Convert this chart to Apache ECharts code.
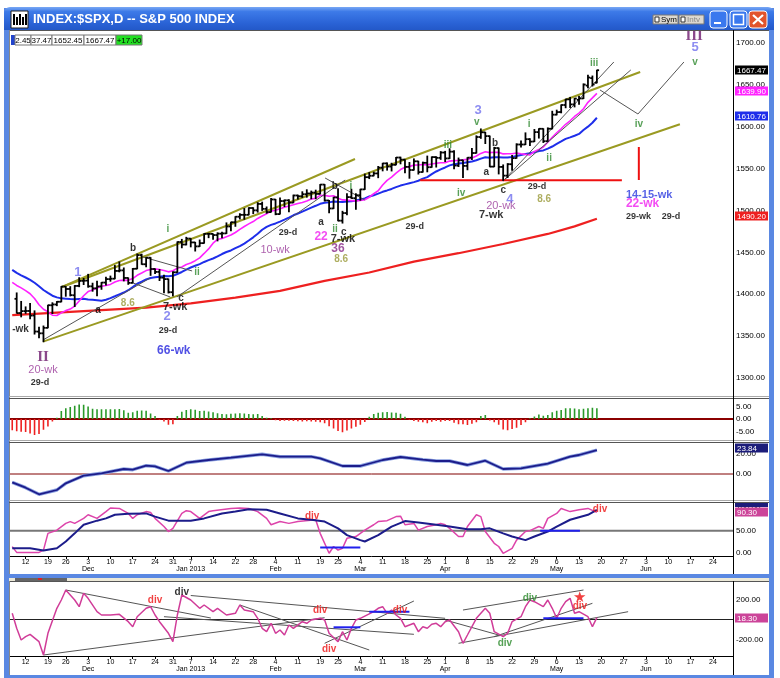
<!DOCTYPE html>
<html><head><meta charset="utf-8">
<script src="https://cdn.jsdelivr.net/npm/echarts@6/dist/echarts.min.js"></script>
<style>html,body{margin:0;padding:0;background:#fff}#c{width:780px;height:678px}</style>
</head><body><div id="c"></div><script>
// ---------------- DATA ----------------
const tradingDays = ['2012-11-07','2012-11-08','2012-11-09','2012-11-12','2012-11-13','2012-11-14','2012-11-15','2012-11-16','2012-11-19','2012-11-20','2012-11-21','2012-11-23','2012-11-26','2012-11-27','2012-11-28','2012-11-29','2012-11-30',
'2012-12-03','2012-12-04','2012-12-05','2012-12-06','2012-12-07','2012-12-10','2012-12-11','2012-12-12','2012-12-13','2012-12-14','2012-12-17','2012-12-18','2012-12-19','2012-12-20','2012-12-21','2012-12-24','2012-12-26','2012-12-27','2012-12-28','2012-12-31',
'2013-01-02','2013-01-03','2013-01-04','2013-01-07','2013-01-08','2013-01-09','2013-01-10','2013-01-11','2013-01-14','2013-01-15','2013-01-16','2013-01-17','2013-01-18','2013-01-22','2013-01-23','2013-01-24','2013-01-25','2013-01-28','2013-01-29','2013-01-30','2013-01-31',
'2013-02-01','2013-02-04','2013-02-05','2013-02-06','2013-02-07','2013-02-08','2013-02-11','2013-02-12','2013-02-13','2013-02-14','2013-02-15','2013-02-19','2013-02-20','2013-02-21','2013-02-22','2013-02-25','2013-02-26','2013-02-27','2013-02-28',
'2013-03-01','2013-03-04','2013-03-05','2013-03-06','2013-03-07','2013-03-08','2013-03-11','2013-03-12','2013-03-13','2013-03-14','2013-03-15','2013-03-18','2013-03-19','2013-03-20','2013-03-21','2013-03-22','2013-03-25','2013-03-26','2013-03-27','2013-03-28',
'2013-04-01','2013-04-02','2013-04-03','2013-04-04','2013-04-05','2013-04-08','2013-04-09','2013-04-10','2013-04-11','2013-04-12','2013-04-15','2013-04-16','2013-04-17','2013-04-18','2013-04-19','2013-04-22','2013-04-23','2013-04-24','2013-04-25','2013-04-26','2013-04-29','2013-04-30',
'2013-05-01','2013-05-02','2013-05-03','2013-05-06','2013-05-07','2013-05-08','2013-05-09','2013-05-10','2013-05-13','2013-05-14','2013-05-15','2013-05-16','2013-05-17'];
const futureDays = ['2013-05-20','2013-05-21','2013-05-22','2013-05-23','2013-05-24','2013-05-27','2013-05-28','2013-05-29','2013-05-30','2013-05-31',
'2013-06-03','2013-06-04','2013-06-05','2013-06-06','2013-06-07','2013-06-10','2013-06-11','2013-06-12','2013-06-13','2013-06-14',
'2013-06-17','2013-06-18','2013-06-19','2013-06-20','2013-06-21','2013-06-24','2013-06-25','2013-06-26','2013-06-27','2013-06-28'];

// OHLC from 2012-11-08 (category 1) to 2013-05-17 (category 131)
const ohlc = [
[1394.53,1401.54,1377.51,1377.51],[1377.55,1391.39,1373.03,1379.85],[1379.86,1384.87,1377.19,1380.03],[1380.03,1388.81,1370.78,1374.53],[1374.64,1380.13,1352.50,1355.49],[1355.41,1360.62,1348.05,1353.33],[1353.36,1362.03,1343.35,1359.88],[1359.88,1386.89,1359.88,1386.89],[1386.82,1389.77,1377.04,1387.81],[1387.79,1391.25,1386.39,1391.03],[1391.03,1409.16,1391.03,1409.15],[1409.15,1409.15,1397.68,1406.29],[1406.29,1409.01,1398.03,1398.94],[1398.77,1410.31,1385.43,1409.93],[1409.96,1419.70,1409.04,1415.95],[1415.95,1418.86,1411.63,1416.18],
[1416.34,1423.73,1408.46,1409.46],[1409.46,1413.14,1403.65,1407.05],[1407.05,1415.56,1398.23,1409.28],[1409.43,1413.95,1405.93,1413.94],[1413.95,1420.34,1410.90,1418.07],[1418.07,1421.64,1415.64,1418.55],[1418.55,1434.27,1418.55,1427.84],[1427.84,1438.59,1426.76,1428.48],[1428.48,1431.36,1416.00,1419.45],[1419.45,1419.45,1411.88,1413.58],[1413.54,1430.67,1413.54,1430.36],[1430.47,1448.00,1430.47,1446.79],[1446.79,1447.75,1435.80,1435.81],[1435.81,1443.70,1432.82,1443.69],[1443.67,1443.67,1422.58,1430.15],[1430.15,1430.15,1424.66,1426.66],[1426.66,1429.42,1416.43,1419.83],[1419.83,1422.80,1401.80,1418.10],[1418.10,1418.10,1401.58,1402.43],[1402.43,1426.74,1398.11,1426.19],
[1426.19,1462.43,1426.19,1462.42],[1462.42,1465.47,1455.53,1459.37],[1459.37,1467.94,1458.99,1466.47],[1466.47,1466.47,1456.62,1461.89],[1461.89,1461.89,1451.64,1457.15],[1457.15,1464.73,1457.15,1461.02],[1461.02,1472.30,1461.02,1472.12],[1472.12,1472.75,1467.58,1472.05],[1472.05,1472.05,1465.69,1470.68],[1470.67,1473.31,1463.76,1472.34],[1472.33,1473.96,1467.60,1472.63],[1472.63,1485.16,1472.63,1480.94],[1480.95,1485.98,1475.81,1485.98],[1485.98,1492.56,1481.16,1492.56],[1492.56,1496.13,1489.90,1494.81],[1494.81,1502.27,1489.46,1494.82],[1494.82,1503.26,1494.82,1502.96],[1502.96,1503.23,1496.33,1500.18],[1500.18,1509.35,1498.09,1507.84],[1507.84,1509.94,1500.11,1501.96],[1501.96,1504.19,1496.76,1498.11],
[1498.11,1514.41,1498.11,1513.17],[1513.17,1513.17,1495.02,1495.71],[1495.71,1514.96,1495.71,1511.29],[1511.29,1512.53,1504.71,1512.12],[1512.12,1512.90,1498.49,1509.39],[1509.39,1518.31,1509.39,1517.93],[1517.93,1518.31,1513.61,1517.01],[1517.01,1522.29,1515.61,1519.43],[1519.43,1524.69,1515.93,1520.33],[1520.33,1523.14,1514.02,1521.38],[1521.38,1524.24,1514.14,1519.79],[1519.79,1530.94,1519.79,1530.94],[1530.94,1530.94,1511.41,1511.95],[1511.95,1511.95,1497.29,1502.42],[1502.42,1515.64,1502.42,1515.60],[1515.60,1525.84,1487.85,1487.85],[1487.85,1498.99,1485.01,1496.94],[1496.94,1520.08,1494.88,1515.99],[1515.99,1525.34,1514.46,1514.68],
[1514.68,1519.99,1501.48,1518.20],[1518.20,1525.27,1512.29,1525.20],[1525.20,1543.47,1525.20,1539.79],[1539.79,1545.25,1538.11,1541.46],[1541.46,1545.78,1541.46,1544.26],[1544.26,1552.48,1539.19,1551.18],[1551.15,1556.27,1547.36,1556.22],[1556.22,1556.77,1548.24,1552.48],[1552.48,1556.39,1547.25,1554.52],[1554.52,1563.32,1554.52,1563.23],[1563.21,1563.62,1555.74,1560.70],[1560.70,1560.70,1545.13,1552.10],[1552.10,1557.25,1538.57,1548.34],[1548.34,1561.56,1548.34,1558.71],[1558.71,1558.71,1543.55,1545.80],[1545.90,1557.74,1545.90,1556.89],[1556.89,1564.91,1546.22,1551.69],[1551.69,1563.95,1551.69,1563.77],[1563.75,1564.07,1551.90,1562.85],[1562.86,1570.28,1561.08,1569.19],
[1569.18,1570.57,1558.47,1562.17],[1562.17,1573.66,1562.17,1570.25],[1570.25,1571.47,1549.80,1553.69],[1553.69,1562.60,1552.52,1559.98],[1559.98,1559.98,1539.50,1553.28],[1553.26,1563.07,1548.63,1563.07],[1563.11,1573.89,1560.92,1568.61],[1568.61,1589.07,1568.61,1587.73],[1587.73,1597.35,1586.17,1593.37],[1593.30,1593.30,1579.97,1588.85],[1588.84,1588.84,1552.28,1552.36],[1552.36,1575.35,1552.36,1574.57],[1574.57,1574.57,1543.69,1552.01],[1552.03,1554.38,1536.03,1541.61],[1541.61,1555.89,1539.40,1555.25],[1555.25,1565.55,1548.19,1562.50],[1562.50,1579.58,1562.50,1578.78],[1578.78,1583.00,1575.80,1578.79],[1578.78,1592.64,1578.78,1585.16],[1585.16,1585.78,1577.56,1582.24],[1582.34,1596.65,1582.34,1593.61],[1593.58,1597.57,1586.50,1597.57],
[1597.55,1597.55,1581.28,1582.70],[1582.77,1598.60,1582.77,1597.59],[1597.60,1618.46,1597.60,1614.42],[1614.40,1619.77,1614.21,1617.50],[1617.55,1626.03,1616.64,1625.96],[1625.95,1632.78,1622.70,1632.69],[1632.69,1635.01,1623.09,1626.67],[1626.69,1633.70,1623.71,1633.70],[1632.10,1636.00,1626.74,1633.77],[1633.75,1651.10,1633.75,1650.34],[1649.13,1661.49,1646.68,1658.78],[1658.07,1660.51,1648.60,1650.47],[1652.45,1667.47,1652.45,1667.47]];

// magenta average (categories 0..131)
const maMagenta = [1414.09,1410.53,1407.64,1404.35,1400.61,1394.94,1387.51,1382.08,1379.04,1374.99,
1374.64,1377.80,1380.44,1382.33,1385.87,1391.92,1398.21,1403.16,1405.18,1407.33,
1409.62,1410.51,1411.74,1414.63,1416.48,1416.83,1416.57,1418.66,1422.63,1425.29,
1428.26,1429.47,1430.28,1429.48,1428.44,1426.74,1428.00,1431.21,1432.47,1435.53,
1437.35,1440.05,1443.49,1448.72,1454.11,1460.94,1465.55,1466.57,1468.73,1470.68,
1473.75,1477.51,1480.89,1483.98,1486.79,1490.51,1493.47,1496.02,1499.24,1500.21,
1502.09,1503.82,1505.27,1506.77,1508.45,1509.61,1511.45,1513.78,1514.44,1517.96,
1518.03,1517.06,1517.68,1514.67,1512.66,1512.32,1511.75,1511.44,1511.98,1512.86,
1515.81,1520.00,1523.56,1530.39,1535.95,1539.80,1544.65,1548.90,1551.59,1552.45,
1554.17,1554.33,1554.90,1554.45,1555.58,1556.41,1557.00,1557.15,1558.97,1559.50,
1559.63,1560.38,1560.99,1562.69,1565.08,1568.13,1570.10,1569.12,1569.55,1569.38,
1567.55,1567.74,1567.69,1568.70,1567.81,1566.99,1566.33,1570.45,1572.75,1575.82,
1581.42,1587.34,1592.84,1597.55,1602.94,1607.10,1612.24,1616.26,1621.53,1629.14,
1634.43,1639.90];
// blue average (categories 0..131)
const maBlue = [1429.17,1425.44,1422.50,1420.00,1417.22,1413.74,1409.61,1405.08,1401.56,1398.25,
1396.24,1395.07,1394.74,1394.27,1394.13,1394.32,1394.51,1393.65,1393.31,1392.93,
1392.24,1393.36,1395.32,1397.60,1399.91,1402.05,1404.81,1408.48,1412.62,1414.95,
1417.61,1419.47,1420.31,1420.95,1421.86,1421.51,1421.99,1424.20,1426.57,1429.40,
1431.91,1433.97,1436.01,1438.56,1440.67,1442.68,1445.20,1448.01,1450.42,1452.28,
1454.98,1457.42,1460.50,1464.13,1467.96,1472.23,1476.97,1480.40,1482.81,1484.54,
1486.68,1489.07,1491.56,1494.27,1496.40,1498.66,1501.02,1503.36,1505.61,1507.99,
1509.22,1509.69,1510.68,1510.35,1510.06,1510.82,1511.14,1511.92,1513.21,1514.47,
1516.65,1518.22,1520.08,1522.31,1523.96,1525.74,1527.83,1529.75,1531.21,1532.57,
1533.90,1535.51,1538.10,1539.82,1543.44,1546.57,1549.11,1551.37,1553.85,1555.20,
1556.17,1556.73,1557.62,1558.45,1559.95,1561.90,1563.54,1563.02,1563.68,1563.68,
1563.35,1563.19,1563.99,1565.03,1566.32,1567.34,1568.26,1569.42,1571.11,1571.70,
1573.79,1576.38,1579.44,1582.44,1585.49,1587.34,1589.26,1591.40,1596.07,1600.08,
1604.77,1610.76];
// red long average, read at sample categories [category, value]
const maRed = [[0,1375],[10,1378],[20,1381],[30,1384],[40,1389],[50,1396],[60,1404],[70,1416],[80,1426],[90,1439],[100,1449],[110,1460],[120,1472],[126,1481],[131,1490.20]];

// MACD(12,26,9) histogram, categories 0..131
const macdHist = [-4.5,-4.9,-5.1,-5.2,-5.8,-6.4,-6.0,-4.3,-3.0,-1.0,0.5,3.2,4.3,4.8,5.3,5.8,5.7,5.0,4.1,3.9,
3.9,3.9,3.9,3.9,4.0,3.5,2.5,2.7,3.3,3.4,3.3,2.2,1.2,-0.3,-1.0,-2.3,-2.1,1.2,2.9,3.6,
3.9,3.7,3.2,3.3,3.0,2.7,2.3,2.0,1.9,2.1,2.2,2.3,2.2,2.0,1.9,2.0,1.2,0.5,0.3,-0.5,
-0.8,-0.7,-0.7,-0.8,-0.9,-1.0,-0.9,-1.0,-1.1,-1.3,-1.7,-2.9,-3.8,-4.8,-5.3,-4.6,-3.8,-3.1,-2.3,-1.2,
0.9,2.0,2.5,2.7,2.8,2.6,2.5,2.1,0.9,-0.3,-0.8,-1.1,-1.3,-1.7,-1.1,-0.8,-1.1,-0.8,-0.8,-1.5,
-2.1,-2.1,-2.4,-1.9,-1.3,1.2,1.6,-0.6,-1.3,-2.3,-4.2,-4.5,-4.0,-3.5,-2.4,-1.3,0.3,1.0,1.8,1.3,
1.6,2.7,3.3,3.6,4.3,4.3,4.2,3.9,4.1,4.3,4.5,4.3];
// MACD(12,26,1) line [category, value]
const macdLine = [[0,-8.3],[3,-13.7],[6,-20.3],[10,-16],[12,-9.3],[16,-1.7],[20,0.7],[25,5],[27,4.3],[30,8.3],[32,7.7],[35,3],[39,11.3],[44,14],[49,16.3],[56,19.7],[60,17.3],[67,17.3],[69,15.7],[74,8],[78,8],[83,14],[87,17],[92,14.3],[95,13],[98,13],[102,9],[106,13.3],[110,5],[114,5.7],[120,10.3],[125,17.3],[127,19],[131,23.84]];
// StochRSI(14,34(2),10)
const stochK = [[0,14.7],[1,2],[3,2],[6,2],[7,7],[8,44],[10,51],[12,66],[13,70],[14,66],[16,77],[17,85],[19,77],[21,92],[22,100],[24,99],[26,88],[27,77],[28,85],[30,92],[31,90],[32,77],[34,59],[35,48],[36,55],[38,88],[39,94],[40,92],[42,77],[44,92],[45,94],[49,99],[51,100],[53,99],[55,92],[57,77],[58,63],[60,70],[62,66],[64,70],[68,74],[69,44],[71,0],[72,15],[73,7],[74,11],[75,33],[77,37],[79,51],[81,63],[82,70],[84,72],[86,81],[87,82],[88,63],[90,66],[91,51],[93,59],[95,63],[96,66],[97,63],[98,55],[100,37],[101,37],[102,59],[104,85],[105,81],[106,48],[108,22],[109,15],[110,0],[112,11],[113,29],[115,48],[116,50],[118,59],[119,55],[120,77],[122,88],[123,99],[125,92],[127,96],[129,99],[131,90.3]];
const stochD = [[0,11],[4,11],[7,6],[10,11],[12,26],[14,44],[16,63],[19,72],[21,77],[23,85],[26,87],[30,88],[32,81],[35,72],[40,72],[43,77],[47,88],[50,92],[53,97],[57,96],[60,88],[64,77],[67,74],[70,70],[73,55],[75,40],[78,29],[79,26],[82,40],[85,59],[88,71],[91,68],[95,63],[98,59],[102,53],[105,53],[107,55],[110,44],[112,37],[115,29],[117,37],[120,48],[122,59],[125,74],[129,85],[131,96]];
// lower MACD(12,26,1) panel [category, value]
const macdLower = [[0,62],[1,-88],[2,-205],[3,-172],[4,-148],[6,-222],[7,-355],[8,-138],[10,112],[11,195],[12,295],[14,195],[15,128],[16,262],[17,212],[19,78],[20,45],[22,45],[24,52],[26,-22],[27,-72],[28,28],[30,112],[31,128],[32,45],[33,-22],[35,-138],[36,-222],[37,45],[38,245],[40,195],[42,112],[43,145],[45,78],[46,112],[48,45],[50,62],[51,145],[52,95],[54,78],[55,12],[56,-88],[57,-122],[58,-38],[59,-138],[60,-105],[61,-155],[62,-55],[63,-88],[65,-22],[66,-38],[67,-5],[69,12],[70,-5],[71,-138],[73,-222],[74,-122],[75,-205],[76,-88],[77,-5],[78,12],[81,78],[82,112],[83,128],[84,62],[85,95],[86,45],[87,12],[88,-72],[90,-38],[91,-122],[92,-72],[93,-88],[94,-48],[95,-38],[96,-72],[97,-22],[98,-5],[100,-122],[101,-238],[102,-155],[104,12],[106,112],[107,62],[108,-122],[110,-172],[111,-138],[112,-22],[114,28],[115,128],[116,195],[117,178],[119,128],[120,195],[121,112],[122,12],[123,112],[124,178],[125,212],[126,62],[127,78],[129,28],[130,-72],[131,18.3]];

// annotations: [category, value, text, kind]
const priceNotes = [
[14.7,1426.6,'1','wave'],[19.2,1381.2,'a','abc'],[27.1,1455.2,'b','abc'],[37.8,1395.5,'c','abc'],[36.5,1384.8,'7-wk','cycBig'],
[34.7,1374.0,'2','wave'],[34.9,1356.1,'29-d','cyc'],[36.2,1332.2,'66-wk','cycBlue'],[25.9,1389.6,'8.6','olive'],
[6.9,1325.1,'II','roman'],[6.9,1309.6,'20-wk','cycPurple'],[6.2,1295.2,'29-d','cyc'],[0,1358.5,'-wk','cycLeft'],
[34.9,1477.9,'i','minor'],[41.4,1426.6,'ii','minor'],[58.9,1452.9,'10-wk','cycPurple'],[61.8,1473.2,'29-d','cyc'],
[69.2,1468.4,'22','mag'],[72.3,1477.9,'ii','minor'],[74.3,1474.3,'c','abc'],[74.1,1466.0,'7-wk','cycBig'],
[73.0,1454.0,'36','purpleBig'],[73.7,1442.1,'8.6','olive'],[69.2,1486.3,'a','abc'],[72.3,1529.3,'b','abc'],[75.9,1529.3,'i','minor'],
[90.2,1480.3,'29-d','cyc'],[97.6,1578.2,'iii','minor'],[100.6,1520.9,'iv','minor'],[104.4,1620.0,'3','wave'],[104.1,1605.7,'v','minor'],
[108.2,1580.6,'b','abc'],[106.2,1546.0,'a','abc'],[110.0,1524.5,'c','abc'],[111.5,1513.7,'4','wave'],[109.5,1505.4,'20-wk','cycPurple'],
[107.3,1494.6,'7-wk','cycBig'],[115.8,1603.3,'i','minor'],[120.3,1562.7,'ii','minor'],[117.6,1528.1,'29-d','cyc'],[119.2,1513.7,'8.6','olive'],
[130.4,1676.1,'iii','minor'],[140.4,1603.3,'iv','minor'],[153.0,1677.3,'v','minor'],[152.8,1708.4,'III','roman'],[153.0,1695.2,'5','wave'],
[137.5,1518.5,'14-15-wk','cycBlueL'],[137.5,1507.8,'22-wk','magL'],[137.5,1493.4,'29-wk','cycL'],[147.6,1493.4,'29-d','cyc']];
const stochNotes = [[67.2,82,'div','divRed'],[131.7,98,'div','divRed']];
const lowerNotes = [[32.0,195,'div','divRed'],[38.0,272,'div','divBlack'],[69.0,95,'div','divRed'],[86.9,95,'div','divRed'],[71.0,-295,'div','divRed'],[116.0,215,'div','divGreen'],[110.4,-235,'div','divGreen'],[127.2,135,'div','divRed'],[127.2,215,'★','star']];

// trend lines: list of [category, value] vertices
const oliveLines = [[[11.15,1408.7],[76.8,1561.5]],[[11.15,1408.7],[140.7,1665.4]],[[6.9,1343.4],[149.6,1603]]];
const thinLines = [[[6.9,1345.4],[30.9,1419.4]],[[29.3,1444.5],[40.3,1427.8]],[[27.1,1413.4],[35.4,1396.7]],[[36.9,1396.7],[74.6,1536.4]],[[70.1,1538.8],[79.0,1512.5]],[[110.0,1535.2],[134.8,1677.3]],[[110.0,1535.2],[138.6,1667.8]],[[131.7,1643.9],[140.2,1615.2],[150.5,1677.3]]];
const redMarks = [[[91.4,1536],[136.6,1536]],[[140.4,1575.8],[140.4,1536.4]]];
const stochBlue = [[[69,12.5],[78,12.5]],[[118.3,50],[127.2,50]]];
const lowerLines = [[[12,295],[44.5,15]],[[7,-355],[70,18]],[[40,240],[97,12]],[[34,28],[90,-148]],[[51,145],[80,-305]],[[70,-238],[90,185]],[[101,95],[128,295]],[[100,-238],[138,78]],[[108,-172],[130,162]],[[97,-5],[109,-155]]];
const lowerBlue = [[[72,-78],[78,-78]],[[80,78],[89,78]],[[119,12],[128,12]]];

const priceTicks = [1300,1350,1400,1450,1500,1550,1600,1650,1700];
const histTicks = [-5,0,5];
const macdTicks = [0,20];
const stochTicks = [0,50,100];
const lowerTicks = [-200,0,200];
const lastChange = '+17.00';
const headerBoxes = ['2.45','37.47','1652.45','1667.47'];

// ---------------- CHART ----------------
const allDays = tradingDays.concat(futureDays);
const N = allDays.length;
const FONT = 'Liberation Sans';
const parse = s => { const p = s.split('-').map(Number); return {y:p[0], m:p[1], d:p[2], dow:new Date(Date.UTC(p[0],p[1]-1,p[2])).getUTCDay()}; };
const P = allDays.map(parse);
const isWeek = allDays.map((s,i)=> i>0 && P[i].dow < P[i-1].dow);
const monthName = ['Jan','Feb','Mar','Apr','May','Jun','Jul','Aug','Sep','Oct','Nov','Dec'];
const monthLbl = {}; let lastM = null, first = true;
for (let i=0;i<N;i++){ if(!isWeek[i]) continue; if(first){ first=false; lastM=P[i].m; continue; }
  if(P[i].m!==lastM){ monthLbl[i] = monthName[P[i].m-1] + (P[i].m===1 ? ' ' + P[i].y : ''); lastM=P[i].m; } }
const intervalFn = (idx)=> !!isWeek[idx];
const dayFmt = (val, idx)=> { const d = P[idx] ? P[idx].d : parse(val).d; return monthLbl[idx] ? d + '\n' + monthLbl[idx] : String(d); };

const styles = {
  wave:{color:'#7070ee',fontSize:13,fontWeight:'bold'},
  roman:{color:'#6e1a6e',fontSize:15,fontWeight:'bold',fontFamily:'Liberation Serif'},
  abc:{color:'#000',fontSize:10,fontWeight:'bold'},
  minor:{color:'#2f8a2f',fontSize:10,fontWeight:'bold'},
  cyc:{color:'#000',fontSize:9,fontWeight:'bold'},
  cycBig:{color:'#000',fontSize:11,fontWeight:'bold'},
  cycL:{color:'#000',fontSize:9,fontWeight:'bold',align:'left'},
  cycLeft:{color:'#000',fontSize:10,fontWeight:'bold',align:'left'},
  cycBlue:{color:'#2424dd',fontSize:12,fontWeight:'bold'},
  cycBlueL:{color:'#2a3ae0',fontSize:11,fontWeight:'bold',align:'left'},
  cycPurple:{color:'#9a3a9a',fontSize:11},
  mag:{color:'#f020f0',fontSize:12,fontWeight:'bold'},
  magL:{color:'#f020f0',fontSize:12,fontWeight:'bold',align:'left'},
  purpleBig:{color:'#8a2a8a',fontSize:12,fontWeight:'bold'},
  olive:{color:'#9a9a3a',fontSize:10,fontWeight:'bold'},
  divRed:{color:'#ee1111',fontSize:10,fontWeight:'bold'},
  divGreen:{color:'#2a8a2a',fontSize:10,fontWeight:'bold'},
  divBlack:{color:'#000',fontSize:10,fontWeight:'bold'},
  star:{color:'#ee1111',fontSize:15}
};

const grids = [
  {left:10,right:47,top:30,height:365},
  {left:10,right:47,top:399,height:43},
  {left:10,right:47,top:443,height:59},
  {left:10,right:47,top:503,height:53},
  {left:10,right:47,top:582,height:74}
];
const yRanges = [[1279.7,1715.5,priceTicks],[-9.2,8,histTicks],[-28,31,macdTicks],[-6,111,stochTicks],[-365,375,lowerTicks]];

const xAxes = grids.map((g,k)=>({type:'value',gridIndex:k,min:-0.5,max:N-0.5,show:false}));
[3,4].forEach(k=>xAxes.push({type:'category',gridIndex:k,data:allDays,position:'bottom',boundaryGap:true,
  axisLine:{show:true,lineStyle:{color:'#000',width:1}},
  axisTick:{show:true,interval:intervalFn,alignWithLabel:true,length:3,lineStyle:{color:'#000'}},
  axisLabel:{interval:intervalFn,formatter:dayFmt,fontSize:7,lineHeight:7.5,color:'#000',margin:2,fontFamily:FONT},
  splitLine:{show:false}}));
const yAxes = yRanges.map((r,k)=>({type:'value',gridIndex:k,position:'right',min:r[0],max:r[1],
  axisLine:{show:true,onZero:false,lineStyle:{color:'#000',width:1}},axisTick:{show:false},splitLine:{show:false},
  axisLabel:{customValues:r[2],formatter:v=>Number(v).toFixed(2),fontSize:8,color:'#000',margin:3,fontFamily:FONT}}));

const series = [];
const line = (g, data, color, width, z, type) => series.push({type:'line',xAxisIndex:g,yAxisIndex:g,data,symbol:'none',silent:true,z:z||3,
  lineStyle:{color,width,type:type||'solid'},animation:false});
const hline = (g, v, color, width) => line(g, [[-0.5,v],[N-0.5,v]], color, width, 1);

// price panel
line(0, maRed, '#ee2020', 2.2, 3);
line(0, maBlue.map((v,i)=>[i,v]), '#1e2eea', 2, 3);
line(0, maMagenta.map((v,i)=>[i,v]), '#ff22ff', 1.6, 3);
oliveLines.forEach(l=>line(0, l, '#9a9a22', 2, 4));
thinLines.forEach(l=>line(0, l, '#555', 1, 4));
redMarks.forEach(l=>line(0, l, '#ee1010', 2, 4));
series.push({type:'custom',xAxisIndex:0,yAxisIndex:0,z:8,silent:true,animation:false,
  data: ohlc.map((r,k)=>[k+1,r[0],r[1],r[2],r[3]]), encode:{x:0,y:[1,2,3,4]},
  renderItem:(params,api)=>{
    const i=api.value(0);
    const o=api.coord([i,api.value(1)]), h=api.coord([i,api.value(2)]), l=api.coord([i,api.value(3)]), c=api.coord([i,api.value(4)]);
    const w=2.2, st={stroke:'#000',lineWidth:1.8};
    return {type:'group',children:[
      {type:'line',shape:{x1:h[0],y1:h[1]-0.5,x2:l[0],y2:l[1]+0.5},style:st},
      {type:'line',shape:{x1:o[0]-w,y1:o[1],x2:o[0],y2:o[1]},style:st},
      {type:'line',shape:{x1:c[0],y1:c[1],x2:c[0]+w,y2:c[1]},style:st}]};
  }});
// histogram
hline(1, 0, '#8b0000', 2);
series.push({type:'custom',xAxisIndex:1,yAxisIndex:1,z:5,silent:true,animation:false,
  data: macdHist.map((v,i)=>[i,v]), encode:{x:0,y:1},
  renderItem:(params,api)=>{
    const i=api.value(0), v=api.value(1);
    const a=api.coord([i,0]), b=api.coord([i,v]);
    return {type:'line',shape:{x1:a[0],y1:a[1],x2:b[0],y2:b[1]},style:{stroke:v>=0?'#2a9a2a':'#ee2020',lineWidth:1.6}};
  }});
// MACD line
hline(2, 0, '#800000', 1);
line(2, macdLine, '#8aa0e0', 3.4, 3);
line(2, macdLine, '#1c1c8a', 1.8, 4);
// StochRSI
hline(3, 50, '#777', 2);
line(3, stochK, '#dd44aa', 1.5, 4);
line(3, stochD, '#1c1c8a', 2, 5);
stochBlue.forEach(l=>line(3, l, '#2020ee', 2, 6));
// lower MACD panel
hline(4, 0, '#222', 1);
lowerLines.forEach(l=>line(4, l, '#555', 1, 3));
line(4, macdLower, '#d03c98', 1.5, 5);
lowerBlue.forEach(l=>line(4, l, '#2020ee', 2, 6));

const notes = (g, arr) => series.push({type:'scatter',xAxisIndex:g,yAxisIndex:g,z:20,silent:true,animation:false,
  symbol:'circle',symbolSize:1,itemStyle:{color:'rgba(0,0,0,0)'},
  data: arr.map(n=>{ const st=styles[n[3]]; return {value:[n[0],n[1]],label:{show:true,position:'inside',formatter:n[2],
    color:st.color,fontSize:st.fontSize,fontWeight:st.fontWeight||'normal',fontFamily:st.fontFamily||FONT,align:st.align||'center',verticalAlign:'middle'}}; })});
notes(0, priceNotes); notes(3, stochNotes); notes(4, lowerNotes);

const chart = echarts.init(document.getElementById('c'), null, {renderer:'canvas'});
chart.setOption({backgroundColor:'#fff', animation:false, grid:grids, xAxis:xAxes, yAxis:yAxes, series});

// ---------------- chrome + value tags ----------------
const G = [];
const rect = (x,y,w,h,fill,stroke,z,extra)=>G.push(Object.assign({type:'rect',shape:{x,y,width:w,height:h},style:{fill,stroke:stroke||null,lineWidth:1},z:z||50},extra||{}));
const ln = (x1,y1,x2,y2,stroke,w,z)=>G.push({type:'line',shape:{x1,y1,x2,y2},style:{stroke,lineWidth:w||1},z:z||50});
const txt = (x,y,t,fill,font,align,z)=>G.push({type:'text',x,y,style:{text:t,fill,font,textAlign:align||'left',textVerticalAlign:'middle'},z:z||60});

// window frame
rect(4,8,5,670,'#5a88e2');
rect(769,8,5,670,'#5a88e2');
G.push({type:'rect',shape:{x:4,y:7,width:770,height:23,r:[6,6,0,0]},style:{fill:new echarts.graphic.LinearGradient(0,0,0,1,[{offset:0,color:'#79a8f4'},{offset:0.2,color:'#3d7ae8'},{offset:0.7,color:'#2a63d6'},{offset:1,color:'#2358c8'}])},z:50});
rect(11,11,17,17,'#fff','#222',55);
[13,16,19,22,25].forEach((x,k)=>rect(x,14+(k%2)*3,2,11-(k%2)*3,'#000',null,56));
txt(33,19.5,'INDEX:$SPX,D -- S&P 500 INDEX','#fff','bold 13px "Liberation Sans"');
// small buttons
rect(653,15,25,9,'#dcd8d0','#777',55); rect(655,17,4,5,'#fff','#333',56); txt(661,19.5,'Sym','#000','8px "Liberation Sans"');
rect(679,15,25,9,'#dcd8d0','#777',55); rect(681,17,4,5,'#fff','#333',56); txt(687,19.5,'Intv','#888','8px "Liberation Sans"');
G.push({type:'rect',shape:{x:710,y:11,width:17,height:17,r:3},style:{fill:'#3a78ee',stroke:'#fff',lineWidth:1},z:55});
rect(714,22,7,2,'#fff',null,56);
G.push({type:'rect',shape:{x:730,y:11,width:17,height:17,r:3},style:{fill:'#3a78ee',stroke:'#fff',lineWidth:1},z:55});
G.push({type:'rect',shape:{x:733.5,y:14.5,width:10,height:10},style:{fill:null,stroke:'#fff',lineWidth:1.5},z:56});
G.push({type:'rect',shape:{x:749,y:11,width:18,height:17,r:3},style:{fill:'#e2542c',stroke:'#fff',lineWidth:1},z:55});
ln(753,15,763,24,'#fff',2.2,56); ln(763,15,753,24,'#fff',2.2,56);
// header value boxes
rect(11,35,4,10,'#2244cc',null,55);
const bx = [[15,16],[31,21],[52,32],[84,32]];
headerBoxes.forEach((t,k)=>{ rect(bx[k][0],35,bx[k][1],10,'#fff','#777',55); txt(bx[k][0]+bx[k][1]/2,40.5,t,'#000','8px "Liberation Sans"','center'); });
rect(116,35,26,10,'#22e022','#777',55); txt(129,40.5,lastChange,'#000','8px "Liberation Sans"','center');
// panel frame lines
ln(9,30.5,769,30.5,'#555',1);
ln(9.5,30,9.5,574,'#888',1);
[[396.5,398.5],[440.5,442.5],[500.5,502.5]].forEach(p=>{ ln(9,p[0],769,p[0],'#aaa',1); ln(9,p[1],769,p[1],'#555',1); });
ln(733.5,30,733.5,574,'#000',1);
rect(4,574,770,4,'#5a88e2',null,50);
rect(9,578,760,3.5,'#ece9d8',null,50);
rect(15,578,52,3,'#666',null,51); rect(38,578,4,2,'#e02020',null,52);
ln(9,581.5,769,581.5,'#555',1);
ln(9.5,581,9.5,675,'#888',1);
ln(733.5,581,733.5,675,'#000',1);
rect(4,675,770,3,'#5a88e2',null,50);

// value tags at the right edge, placed through the axes
const tag = (g, v, bg, fg, text, dy)=>{ const y = chart.convertToPixel({yAxisIndex:g}, v) + (dy||0);
  rect(735,Math.round(y)-4.5,33,9,bg,null,58); txt(737,Math.round(y)+0.5,text,fg,'8px "Liberation Sans"','left',59); };
const lastClose = ohlc[ohlc.length-1][3];
tag(0, lastClose, '#000', '#fff', lastClose.toFixed(2), 0);
tag(0, maMagenta[maMagenta.length-1], '#ff22ff', '#fff', maMagenta[maMagenta.length-1].toFixed(2), -2);
tag(0, maBlue[maBlue.length-1], '#1e2eea', '#fff', maBlue[maBlue.length-1].toFixed(2), -2);
tag(0, maRed[maRed.length-1][1], '#ee2020', '#fff', maRed[maRed.length-1][1].toFixed(2), -3);
tag(2, macdLine[macdLine.length-1][1], '#1c1c7a', '#fff', macdLine[macdLine.length-1][1].toFixed(2), -2);
rect(735,503,33,4,'#1c1c7a',null,58);
tag(3, stochK[stochK.length-1][1], '#cc4499', '#fff', stochK[stochK.length-1][1].toFixed(2), 0);
tag(4, macdLower[macdLower.length-1][1], '#cc4499', '#fff', macdLower[macdLower.length-1][1].toFixed(2), 0);

chart.setOption({graphic:{elements:G}});
</script></body></html>
